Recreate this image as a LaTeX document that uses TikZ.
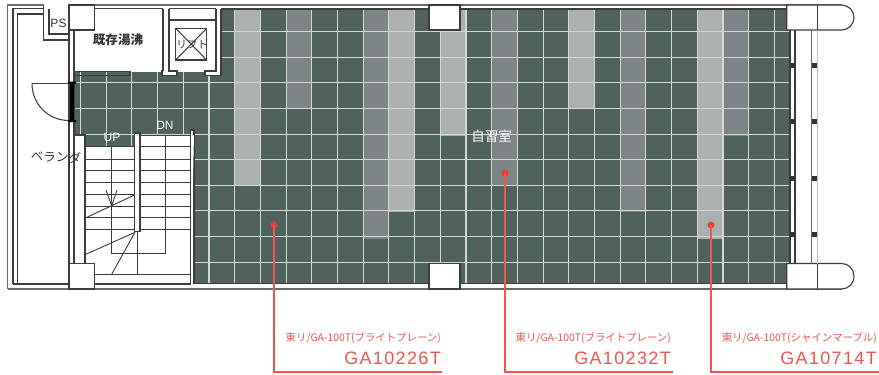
\documentclass[tikz,border=0pt]{standalone}
\usepackage{fontspec}
\setmainfont{Liberation Sans}
\newfontfamily\jp{Noto Sans CJK JP}
\newfontfamily\jpm{Noto Sans CJK JP}[LetterSpace=1]
\newfontfamily\codefont{Liberation Sans}[LetterSpace=7.5]
\definecolor{tile}{HTML}{4F635C}
\definecolor{tilelight}{HTML}{ADB0B0}
\definecolor{tilemid}{HTML}{7E8588}
\definecolor{grout}{HTML}{D3D8D6}
\definecolor{wall}{HTML}{3C3C3C}
\definecolor{wallgray}{HTML}{6A6A6A}
\definecolor{leader}{HTML}{F0564E}
\definecolor{dotred}{HTML}{EE3A30}
\tikzset{
  wallline/.style={draw=wall,line width=1.05pt},
  outerline/.style={draw=wallgray,line width=1.4pt},
  column/.style={fill=white,draw=wall,line width=1.1pt},
  tread/.style={draw=wall,line width=0.9pt},
  mullion/.style={fill=black!80,draw=none,minimum size=5pt,inner sep=0pt,rectangle},
  leaderline/.style={draw=leader,line width=1.1pt},
  dotmark/.style={circle,fill=dotred,inner sep=0pt,minimum size=7pt},
  smalllabel/.style={text=leader,font=\jp\fontsize{10.4}{11}\selectfont,anchor=east,inner sep=0pt},
  codelabel/.style={text=leader,font=\codefont\fontsize{18}{19}\selectfont,anchor=east,inner sep=0pt},
  roomlabel/.style={font=\jpm\fontsize{12.5}{13}\selectfont,text=black!80,inner sep=0pt},
  whitelabel/.style={font=\jp\fontsize{13.5}{14}\selectfont,text=white,inner sep=0pt},
}
\begin{document}
\begin{tikzpicture}[x=1pt,y=-1pt]
\useasboundingbox (0,0) rectangle (879,375);
\fill[white] (0,0) rectangle (879,375);
% floor
\begin{scope}
\clip (74,72) -- (221,72) -- (221,9) -- (790,9) -- (790,283.5) -- (194,283.5) -- (194,135) -- (135,135) -- (135,146) -- (85,146) -- (85,135) -- (74,135) -- cycle;
\fill[tile] (60,0) rectangle (800,300);
\foreach \k/\e/\c in {1/186/tilelight,3/109/tilemid,6/238.5/tilemid,7/212/tilelight,9/135.7/tilelight,11/186/tilemid,14/109/tilelight,16/212/tilemid,19/238.5/tilelight,20/135.7/tilemid}{
  \fill[\c] ({209+25.7*\k},9) rectangle ({209+25.7*(\k+1)},\e);
}
\foreach \k in {-5,...,22}{
  \draw[grout,line width=1.1pt] ({209+25.7*\k},0) -- ({209+25.7*\k},300);
}
\foreach \j in {0,...,9}{
  \draw[grout,line width=1.1pt] (60,{31.7+25.6*\j}) -- (800,{31.7+25.6*\j});
}
\end{scope}
% floor edges
\draw[wallline] (221,9) -- (790,9);
\draw[wallline] (194,135) -- (194,283.5) -- (790,283.5);
\draw[wall,line width=1.6pt] (790,9) -- (790,283.5);
% outer shell
\draw[outerline] (94,5) -- (842,5);
\draw[outerline] (7.5,289) -- (7.5,5) -- (44,5);
\draw[outerline] (7.5,289) -- (842,289);
\draw[wallline] (13,284) -- (13,8.5) -- (44,8.5);
\draw[wallline] (17.5,284) -- (17.5,14) -- (44,14);
\draw[wallline] (13,284) -- (190.5,284);
\draw[wallline] (94,8.5) -- (163,8.5);
\draw[wallline] (169,8.5) -- (216,8.5);
% PS
\draw[wallline] (43.5,5) -- (43.5,40) -- (69,40);
\draw[wallline] (49,8.5) -- (49,34) -- (69,34);
\node[font=\fontsize{12}{12}\selectfont,text=black!80,inner sep=0pt] (ps) at (58.5,23) {PS};
% left wall
\draw[wallline] (69,30) -- (69,264);
\draw[wallline] (74,30) -- (74,264);
% boiler room wall
\draw[wallline] (74,71.7) -- (130,71.7) -- (130,75.7) -- (74,75.7);
\node[roomlabel,font=\jpm\fontsize{12.5}{13}\selectfont\bfseries] (boiler) at (118,40) {既存湯沸};
% lift shaft
\draw[wallline,fill=white] (163,8.5) -- (163,70.5) -- (162,70.5) -- (162,75.7) -- (177,75.7) -- (177,71) -- (169,71) -- (169,8.5);
\draw[wallline,fill=white] (216,8.5) -- (216,71) -- (205,71) -- (205,75.7) -- (221,75.7) -- (221,8.5);
\draw[wallline] (169,20) -- (216,20);
\draw[wallline,line width=1.2pt] (175.7,28.3) rectangle (206.7,60);
\draw[wallline] (175.7,28.3) -- (206.7,60) (175.7,60) -- (206.7,28.3);
\node[font=\jp\fontsize{10.5}{11}\selectfont,text=black!80,inner sep=0pt] (lift) at (192,45) {リフト};
% door
\draw[wallline] (32,83.5) -- (71,83.5);
\draw[wallline] (32,83.5) .. controls (32,104) and (48,120.5) .. (69,120.5);
\fill[black] (69.8,81.5) rectangle (74,122);
\fill[black] (68,81.5) rectangle (76,83.5) (68,120) rectangle (76,122);
% stair
\fill[white] (74.5,135) rectangle (85,264);
\draw[wallline] (74,135) -- (85,135) -- (85,264);
\draw[wallline,fill=white] (134.5,231.7) -- (134.5,133) -- (140,133) -- (140,231.7) -- cycle;
\draw[wallline,fill=white] (190.5,284) -- (190.5,130) -- (194,130) -- (194,135);
\draw[tread] (140,135) -- (190.5,135);
\foreach \y in {146,159,170.7,182.7,194.3,206,217.7,229}{
  \draw[tread] (85,\y) -- (134.5,\y);
  \draw[tread] (140,\y) -- (190.5,\y);
}
\draw[tread] (111.7,146) -- (111.7,253.3) -- (165,253.3) -- (165,135);
\draw[tread] (137,231.7) -- (137,274.3);
\draw[tread] (94,274.3) -- (190.5,274.3);
\draw[tread] (86,217.7) -- (134.5,195);
\draw[tread] (85,254.7) -- (135,232.3);
\draw[tread] (111.7,274.3) -- (135,232.3);
\draw[tread] (106,190) -- (111.7,206) -- (117,190);
\node[font=\fontsize{12}{12}\selectfont,text=white,inner sep=0pt] (up) at (112,137.5) {UP};
\node[font=\fontsize{12}{12}\selectfont,text=white,inner sep=0pt] (dn) at (165,125) {DN};
\node[roomlabel,rotate=-3] (veranda) at (56,157) {ベランダ};
% columns
\draw[column] (69,5) rectangle (94.3,30);
\draw[column] (69,263.5) rectangle (94.3,289);
\draw[column] (429,5) rectangle (460,30);
\draw[column] (429,263.5) rectangle (460,289);
\draw[column] (786.7,30) -- (786.7,5) -- (841.5,5) .. controls (848.5,5) and (854,10.5) .. (854,17.5) .. controls (854,24.5) and (848.5,30) .. (841.5,30) -- cycle;
\draw[column] (786.7,289) -- (786.7,263.5) -- (841.5,263.5) .. controls (848.5,263.5) and (854,269) .. (854,276.2) .. controls (854,283.5) and (848.5,289) .. (841.5,289) -- cycle;
\draw[wallline] (817.3,5) -- (817.3,30) (817.3,263.5) -- (817.3,289);
% window
\draw[wallline] (795,30) -- (795,263.5);
\draw[outerline] (811.7,30) -- (811.7,263.5);
\draw[draw=black!25,line width=1.2pt] (817.3,30) -- (817.3,263.5);
\foreach \i/\y in {1/65,2/121.7,3/178,4/234.3}{
  \node[mullion] (ma\i) at (792,\y) {};
  \node[mullion] (mb\i) at (814.5,\y) {};
}
% labels and leaders
\node[whitelabel] (study) at (491.5,136) {自習室};
\node[dotmark] (d1) at (274,225) {};
\node[dotmark] (d2) at (505,173) {};
\node[dotmark] (d3) at (711,225) {};
\coordinate (c1) at (274,372);
\coordinate (c2) at (505,372);
\coordinate (c3) at (711,372);
\coordinate (e1) at (442,372);
\coordinate (e2) at (673,372);
\coordinate (e3) at (879,372);
\draw[leaderline] (d1.center) -- (c1) -- (e1);
\draw[leaderline] (d2.center) -- (c2) -- (e2);
\draw[leaderline] (d3.center) -- (c3) -- (e3);
\node[smalllabel] (s1) at (441,338.5) {東リ/GA-100T(ブライトプレーン)};
\node[smalllabel] (s2) at (671,338.5) {東リ/GA-100T(ブライトプレーン)};
\node[smalllabel] (s3) at (877,338.5) {東リ/GA-100T(シャインマーブル)};
\node[codelabel] (g1) at (441,358.5) {GA10226T};
\node[codelabel] (g2) at (671,358.5) {GA10232T};
\node[codelabel] (g3) at (877,358.5) {GA10714T};
\end{tikzpicture}
\end{document}
